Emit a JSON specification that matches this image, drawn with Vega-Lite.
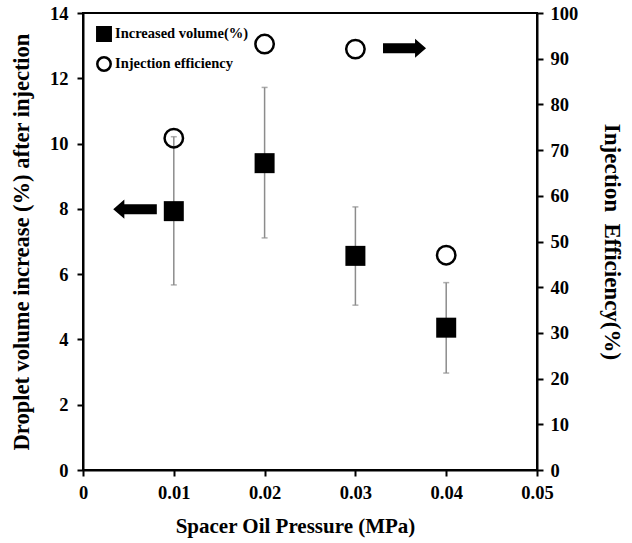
{
  "$schema": "https://vega.github.io/schema/vega-lite/v6.json",
  "width": 454,
  "height": 457,
  "autosize": "none",
  "padding": {"left": 83, "top": 13, "right": 95, "bottom": 73},
  "background": "white",
  "config": {
    "view": {"stroke": "black", "strokeWidth": 2},
    "font": "Liberation Serif",
    "axis": {
      "grid": false,
      "domainColor": "black",
      "domainWidth": 2,
      "tickColor": "black",
      "tickWidth": 2,
      "tickSize": 6,
      "labelFont": "Liberation Serif",
      "labelFontSize": 18.5,
      "labelFontWeight": "bold",
      "labelColor": "black",
      "labelFlush": false,
      "titleFont": "Liberation Serif",
      "titleFontSize": 21,
      "titleFontWeight": "bold",
      "titleColor": "black"
    },
    "legend": {
      "labelFont": "Liberation Serif",
      "labelFontSize": 14.5,
      "labelFontWeight": "bold",
      "labelColor": "black",
      "symbolSize": 180,
      "symbolStrokeWidth": 2.5,
      "rowPadding": 6,
      "labelOffset": 3,
      "padding": 0
    }
  },
  "datasets": {
    "vol": [
      {"p": 0.01, "v": 7.93, "lo": 5.67, "hi": 10.21, "series": "Increased volume(%)"},
      {"p": 0.02, "v": 9.40, "lo": 7.11, "hi": 11.72, "series": "Increased volume(%)"},
      {"p": 0.03, "v": 6.56, "lo": 5.05, "hi": 8.06, "series": "Increased volume(%)"},
      {"p": 0.04, "v": 4.36, "lo": 2.97, "hi": 5.74, "series": "Increased volume(%)"}
    ],
    "eff": [
      {"p": 0.01, "e": 72.6, "series": "Injection efficiency"},
      {"p": 0.02, "e": 93.2, "series": "Injection efficiency"},
      {"p": 0.03, "e": 92.1, "series": "Injection efficiency"},
      {"p": 0.04, "e": 47.0, "series": "Injection efficiency"}
    ],
    "arrowL": [{"p": 0.00573, "v": 7.99}],
    "arrowR": [{"p": 0.03541, "e": 92.3}]
  },
  "encoding": {
    "x": {
      "field": "p",
      "type": "quantitative",
      "scale": {"domain": [0, 0.05], "nice": false, "zero": false},
      "axis": {
        "title": "Spacer Oil Pressure (MPa)",
        "values": [0, 0.01, 0.02, 0.03, 0.04, 0.05],
        "labelExpr": "datum.value == 0 ? '0' : format(datum.value, '.2f')",
        "labelPadding": 7,
        "titlePadding": 14,
        "titleX": 212
      }
    }
  },
  "layer": [
    {
      "layer": [
        {
          "data": {"name": "vol"},
          "mark": {"type": "errorbar", "color": "#8c8c8c", "thickness": 1.5, "ticks": {"size": 6, "color": "#8c8c8c", "thickness": 1.5}},
          "encoding": {
            "y": {"field": "lo", "type": "quantitative", "title": "Droplet volume increase (%) after injection"},
            "y2": {"field": "hi"}
          }
        },
        {
          "data": {"name": "vol"},
          "mark": {"type": "point", "filled": false, "size": 400, "strokeWidth": 0, "opacity": 1},
          "encoding": {
            "y": {
              "field": "v",
              "type": "quantitative",
              "scale": {"domain": [0, 14], "nice": false},
              "axis": {
                "title": "Droplet volume increase (%) after injection",
                "values": [0,0.5,1,1.5,2,2.5,3,3.5,4,4.5,5,5.5,6,6.5,7,7.5,8,8.5,9,9.5,10,10.5,11,11.5,12,12.5,13,13.5,14],
                "labelExpr": "datum.value % 2 == 0 ? datum.value : ''",
                "labelPadding": 9,
                "titlePadding": 16,
                "titleFontSize": 22.5
              }
            },
            "shape": {"field": "series", "type": "nominal", "scale": {"domain": ["Increased volume(%)", "Injection efficiency"], "range": ["square", "circle"]}, "legend": {"title": null, "orient": "none", "legendX": 13, "legendY": 13}},
            "fill": {"field": "series", "type": "nominal", "scale": {"domain": ["Increased volume(%)", "Injection efficiency"], "range": ["black", "transparent"]}, "legend": {"title": null, "orient": "none", "legendX": 13, "legendY": 13}},
            "stroke": {"field": "series", "type": "nominal", "scale": {"domain": ["Increased volume(%)", "Injection efficiency"], "range": ["black", "black"]}, "legend": {"title": null, "orient": "none", "legendX": 13, "legendY": 13}}
          }
        },
        {
          "data": {"name": "arrowL"},
          "mark": {"type": "point", "filled": true, "color": "black", "opacity": 1, "size": 1900, "shape": "M1,-0.23 L-0.49,-0.23 L-0.49,-0.44 L-1,0 L-0.49,0.44 L-0.49,0.23 L1,0.23 Z"},
          "encoding": {
            "y": {"field": "v", "type": "quantitative"}
          }
        }
      ]
    },
    {
      "layer": [
        {
          "data": {"name": "eff"},
          "mark": {"type": "point", "filled": false, "size": 340, "strokeWidth": 2.5, "opacity": 1},
          "encoding": {
            "y": {
              "field": "e",
              "type": "quantitative",
              "scale": {"domain": [0, 100], "nice": false},
              "axis": {
                "orient": "right",
                "title": "Injection\u00a0 Efficiency(%)",
                "values": [0,5,10,15,20,25,30,35,40,45,50,55,60,65,70,75,80,85,90,95,100],
                "labelExpr": "datum.value % 10 == 0 ? datum.value : ''",
                "labelPadding": 7,
                "titlePadding": 22,
                "titleFontSize": 23
              }
            },
            "shape": {"field": "series", "type": "nominal", "legend": {"title": null, "orient": "none", "legendX": 13, "legendY": 13}},
            "fill": {"field": "series", "type": "nominal", "legend": {"title": null, "orient": "none", "legendX": 13, "legendY": 13}},
            "stroke": {"field": "series", "type": "nominal", "legend": {"title": null, "orient": "none", "legendX": 13, "legendY": 13}}
          }
        },
        {
          "data": {"name": "arrowR"},
          "mark": {"type": "point", "filled": true, "color": "black", "opacity": 1, "size": 1850, "shape": "M-1,-0.23 L0.49,-0.23 L0.49,-0.44 L1,0 L0.49,0.44 L0.49,0.23 L-1,0.23 Z"},
          "encoding": {
            "y": {"field": "e", "type": "quantitative"}
          }
        }
      ]
    }
  ],
  "resolve": {"scale": {"y": "independent"}, "axis": {"y": "independent"}}
}
